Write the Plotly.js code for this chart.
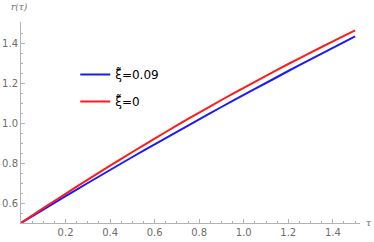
<!DOCTYPE html>
<html><head><meta charset="utf-8">
<script src="https://cdn.plot.ly/plotly-3.0.1.min.js"></script>
<style>html,body{margin:0;padding:0;background:#fff}#plot{width:374px;height:242px}</style>
</head><body><div id="plot"></div>
<script>
const tau = [0, 0.1, 0.2, 0.3, 0.4, 0.5, 0.6, 0.7, 0.8, 0.9, 1.0, 1.1, 1.2, 1.3, 1.4, 1.5];
const rXi009 = [0.5, 0.567, 0.634, 0.700, 0.765, 0.830, 0.893, 0.956, 1.018, 1.080, 1.141, 1.200, 1.260, 1.318, 1.376, 1.433];
const rXi0 = [0.5, 0.574, 0.646, 0.717, 0.787, 0.855, 0.922, 0.988, 1.052, 1.115, 1.176, 1.236, 1.295, 1.352, 1.408, 1.463];
const names = ['ξ̃=0.09', 'ξ̃=0'];
const xTicks = [0.2, 0.4, 0.6, 0.8, 1.0, 1.2, 1.4];
const yTicks = [0.6, 0.8, 1.0, 1.2, 1.4];

const axisCommon = {
  showgrid: false, zeroline: false, showline: true, linecolor: '#b3b3b3', linewidth: 1,
  ticks: 'inside', ticklen: 4, tickcolor: '#b3b3b3', tickwidth: 1,
  tickfont: {family: 'DejaVu Sans', size: 10, color: '#6e6e6e'},
  tickmode: 'array'
};
const data = [
  {x: tau, y: rXi009, mode: 'lines', line: {color: '#1a1aff', width: 2, shape: 'spline', smoothing: 0.6}, name: names[0], legendgroup: 'a'},
  {x: tau, y: rXi0, mode: 'lines', line: {color: '#ff1a1a', width: 2, shape: 'spline', smoothing: 0.6}, name: names[1], legendgroup: 'b'}
];
const layout = {
  width: 374, height: 242,
  margin: {l: 21, r: 14, t: 22, b: 19},
  paper_bgcolor: '#fff', plot_bgcolor: '#fff',
  xaxis: Object.assign({}, axisCommon, {range: [0, 1.522], tickvals: xTicks, ticktext: xTicks.map(v => v.toFixed(1)),
    minor: {dtick: 0.05, tick0: 0, ticks: 'inside', ticklen: 2, tickcolor: '#b3b3b3'}}),
  yaxis: Object.assign({}, axisCommon, {range: [0.5, 1.505], tickvals: yTicks, ticktext: yTicks.map(v => v.toFixed(1)),
    minor: {dtick: 0.05, tick0: 0.5, ticks: 'inside', ticklen: 2, tickcolor: '#b3b3b3'}}),
  showlegend: true,
  legend: {x: 0.16, y: 0.811, xanchor: 'left', yanchor: 'top', bgcolor: 'rgba(0,0,0,0)',
    font: {family: 'DejaVu Sans', size: 12, color: '#000'}, tracegroupgap: 8, traceorder: 'grouped'},
  annotations: [
    {xref: 'paper', yref: 'paper', x: 0, y: 1, xshift: -2, yshift: 8, yanchor: 'bottom', xanchor: 'center', showarrow: false,
      text: 'r(τ)', font: {family: 'DejaVu Serif', size: 9, color: '#6e6e6e', style: 'italic'}},
    {xref: 'paper', yref: 'paper', x: 1, y: 0, xshift: 4, xanchor: 'left', yanchor: 'middle', showarrow: false,
      text: 'τ', font: {family: 'DejaVu Serif', size: 9, color: '#6e6e6e', style: 'italic'}}
  ]
};
Plotly.newPlot('plot', data, layout, {staticPlot: true, displayModeBar: false});
</script></body></html>
